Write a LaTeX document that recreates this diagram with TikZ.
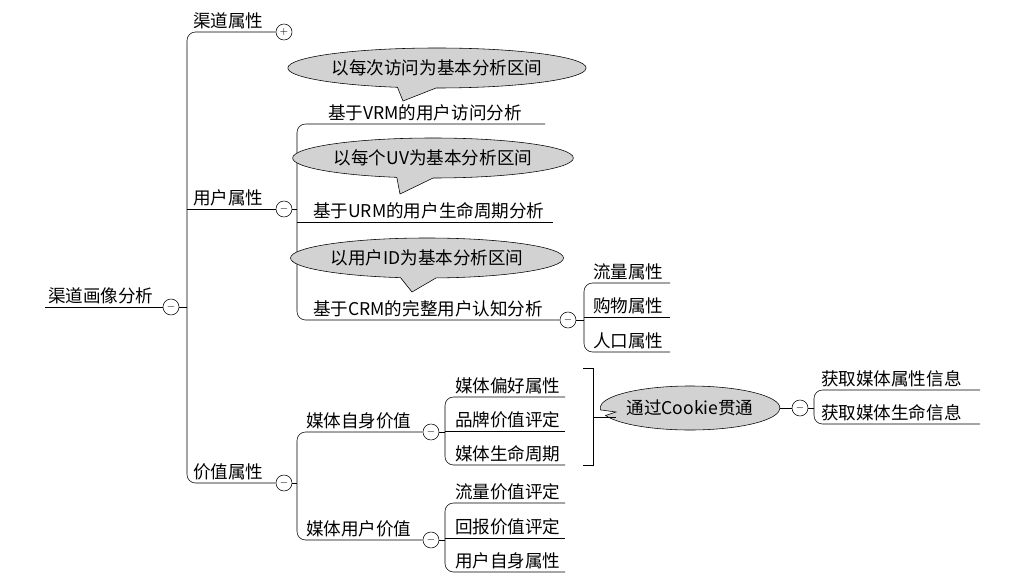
\documentclass[tikz,border=0pt]{standalone}
\usepackage{fontspec}
\setmainfont{Noto Sans CJK SC}
\usetikzlibrary{shapes.callouts}

\tikzset{
  lbl/.style={anchor=south west,inner sep=2pt,font=\fontsize{12.5}{14}\selectfont},
  pm/.style={draw,circle,minimum size=0.4cm,inner sep=0pt,fill=white,font=\scriptsize},
  bubble/.style={ellipse callout,draw,fill=gray!35,inner sep=0pt,font=\fontsize{12.5}{14}\selectfont},
}

\begin{document}
\begin{tikzpicture}[x=0.025cm,y=-0.025cm]
\useasboundingbox (0,0) rectangle (1018,577);
% root
\node[lbl] (root) at (45,307) {渠道画像分析};
\node[pm] (c0) at (171,307) {$-$};
\draw (45,307) -- (c0.west);
\draw (c0.east) -- (187,307);
% level 1
\node[lbl] (qd) at (190,32) {渠道属性};
\node[pm] (c1) at (284,32) {$+$};
\node[lbl] (yh) at (190,209) {用户属性};
\node[pm] (c2) at (284,209) {$-$};
\node[lbl] (jz) at (190,483) {价值属性};
\node[pm] (c3) at (284,483) {$-$};
\draw[rounded corners=6] (c1.west) -- (187,32) -- (187,483) -- (c3.west);
\draw (187,209) -- (c2.west);
% user attributes
\node[lbl] (vrm) at (325,124) {基于VRM的用户访问分析};
\node[lbl] (urm) at (310,222) {基于URM的用户生命周期分析};
\node[lbl] (crm) at (310,320) {基于CRM的完整用户认知分析};
\node[pm] (c4) at (568,320) {$-$};
\draw (c2.east) -- (297,209);
\draw[rounded corners=6] (545,124) -- (297,124) -- (297,320) -- (c4.west);
\draw (297,222) -- (553,222);
\node[bubble,minimum width=6.3cm,minimum height=1.0cm,callout absolute pointer={(403,101)}] (b1) at (437,68) {以每次访问为基本分析区间};
\node[bubble,minimum width=5.9cm,minimum height=1.0cm,callout absolute pointer={(400,194)}] (b2) at (433,158) {以每个UV为基本分析区间};
\node[bubble,minimum width=5.4cm,minimum height=1.0cm,callout absolute pointer={(412,292)}] (b3) at (427,258) {以用户ID为基本分析区间};
% crm children
\node[lbl] (ll) at (590,283) {流量属性};
\node[lbl] (gw) at (590,317) {购物属性};
\node[lbl] (rk) at (590,352) {人口属性};
\draw (c4.east) -- (584,320);
\draw[rounded corners=6] (670,283) -- (584,283) -- (584,352) -- (670,352);
\draw (584,317) -- (670,317);
% value attributes
\node[lbl] (zs) at (303,432) {媒体自身价值};
\node[pm] (c5) at (431,432) {$-$};
\node[lbl] (yhjz) at (303,540) {媒体用户价值};
\node[pm] (c6) at (431,540) {$-$};
\draw (c3.east) -- (297,483);
\draw[rounded corners=6] (c5.west) -- (297,432) -- (297,540) -- (c6.west);
% self value children
\node[lbl] (ph) at (452,397) {媒体偏好属性};
\node[lbl] (pp) at (452,431) {品牌价值评定};
\node[lbl] (sm) at (452,465) {媒体生命周期};
\draw (c5.east) -- (445,432);
\draw[rounded corners=6] (565,397) -- (445,397) -- (445,465) -- (565,465);
\draw (445,431) -- (565,431);
% user value children
\node[lbl] (llpd) at (452,503) {流量价值评定};
\node[lbl] (hb) at (452,538) {回报价值评定};
\node[lbl] (zssx) at (452,572) {用户自身属性};
\draw (c6.east) -- (445,540);
\draw[rounded corners=6] (565,503) -- (445,503) -- (445,572) -- (565,572);
\draw (445,538) -- (565,538);
% cookie
\draw (583,368) -- (593,368) -- (593,465) -- (583,465);
\node[bubble,minimum width=3.6cm,minimum height=1.1cm,callout absolute pointer={(616,412)}] (ck) at (690,408) {通过Cookie贯通};
\node[pm] (c7) at (800,408) {$-$};
\draw (593,417) -- (616,417);
\draw (ck.east) -- (c7.west);
\node[lbl] (hq1) at (818,390) {获取媒体属性信息};
\node[lbl] (hq2) at (818,424) {获取媒体生命信息};
\draw (c7.east) -- (814,408);
\draw[rounded corners=6] (980,390) -- (814,390) -- (814,424) -- (980,424);
\end{tikzpicture}
\end{document}
